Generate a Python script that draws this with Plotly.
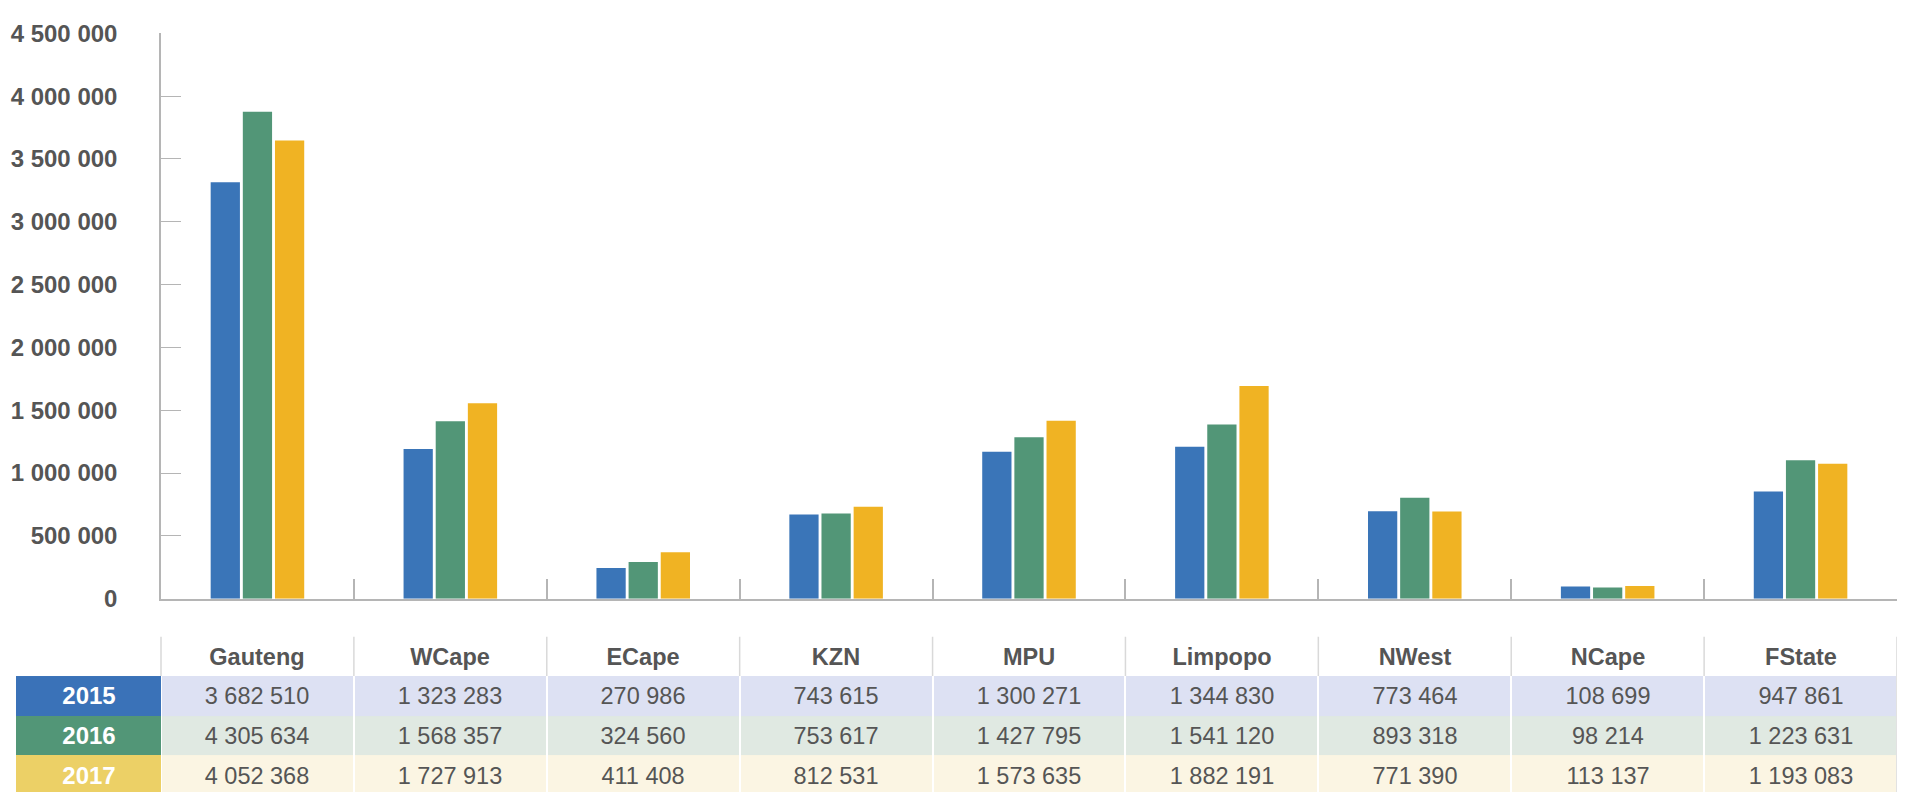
import plotly.graph_objects as go

# ---------------- data ----------------
provinces = ["Gauteng", "WCape", "ECape", "KZN", "MPU", "Limpopo", "NWest", "NCape", "FState"]
years = ["2015", "2016", "2017"]
v2015 = [3682510, 1323283, 270986, 743615, 1300271, 1344830, 773464, 108699, 947861]
v2016 = [4305634, 1568357, 324560, 753617, 1427795, 1541120, 893318, 98214, 1223631]
v2017 = [4052368, 1727913, 411408, 812531, 1573635, 1882191, 771390, 113137, 1193083]
axis_labels = [0, 500000, 1000000, 1500000, 2000000, 2500000, 3000000, 3500000, 4000000, 4500000]
axis_top_value = 5000000  # value reached at the "4 500 000" gridline in the original chart

# ---------------- styles ----------------
W, H = 1905, 805
bar_colors = ["#3a75b8", "#529677", "#f0b323"]
year_fill = ["#3a72b8", "#529677", "#ecd066"]
row_fill = ["#dde1f3", "#e0e9e2", "#fbf5e3"]
FONT = "Liberation Sans, Arial, Helvetica, sans-serif"
TXT = "#555555"
SEP = "#d9d9d9"

PLOT_L, PLOT_R = 161, 1897          # px, bar plot area
TAB_L = 16                          # px, left edge of year column
TAB_TOP = 644                       # px, top of table header
ROW_H = 41                          # px, table row height


def fmt(v):
    return f"{v:,}".replace(",", " ")


def py(px):
    return 1 - px / H


series = [v2015, v2016, v2017]
ncat = len(provinces)
cat_w = (PLOT_R - PLOT_L) / ncat
year_w = (PLOT_L - TAB_L) / cat_w    # year column width in category units

fig = go.Figure()
for name, vals, col in zip(years, series, bar_colors):
    fig.add_trace(go.Bar(x=provinces, y=vals, name=name, marker_color=col,
                         marker_line_width=0, showlegend=False, hoverinfo="skip"))

# ---------- table built on its own axes (x2 / y2) ----------
col_idx = list(range(ncat))
row_idx = [1, 2, 3]

# header
fig.add_trace(go.Heatmap(
    x=col_idx, y=[0], z=[[0] * ncat], text=[provinces], texttemplate="%{text}",
    textfont=dict(family=FONT, size=23.5, color=TXT, weight="bold"),
    colorscale=[[0, "white"], [1, "white"]], showscale=False, hoverinfo="skip",
    xaxis="x2", yaxis="y2"))

# data cells
fig.add_trace(go.Heatmap(
    x=col_idx, y=row_idx,
    z=[[r] * ncat for r in range(len(years))],
    text=[[fmt(v) for v in s] for s in series], texttemplate="%{text}",
    textfont=dict(family=FONT, size=23.5, color=TXT),
    colorscale=[[0, row_fill[0]], [0.5, row_fill[1]], [1, row_fill[2]]],
    zmin=0, zmax=2, xgap=2, ygap=0, showscale=False, hoverinfo="skip",
    xaxis="x2", yaxis="y2"))

# year column
fig.add_trace(go.Heatmap(
    x=[-0.5 - year_w, -0.5], y=row_idx,
    z=[[r] for r in range(len(years))],
    text=[[y] for y in years], texttemplate="%{text}",
    textfont=dict(family=FONT, size=24, color="white", weight="bold"),
    colorscale=[[0, year_fill[0]], [0.5, year_fill[1]], [1, year_fill[2]]],
    zmin=0, zmax=2, showscale=False, hoverinfo="skip",
    xaxis="x2", yaxis="y2"))

# header separators at category boundaries
shapes = []
for k in range(ncat + 1):
    xb = k - 0.5
    y1 = 3.5 if k == ncat else 0.5
    shapes.append(dict(type="line", xref="x2", yref="y2", x0=xb, x1=xb,
                       y0=-0.5, y1=y1, line=dict(color=SEP, width=1.5)))

tab_rows_visible = TAB_TOP / 1  # placeholder to keep names clear
tab_height_rows = (H - TAB_TOP) / ROW_H

fig.update_layout(
    width=W, height=H,
    margin=dict(l=0, r=0, t=0, b=0),
    paper_bgcolor="white", plot_bgcolor="white",
    barmode="group", bargap=0.5, bargroupgap=0.09,
    font=dict(family=FONT, color=TXT),
    shapes=shapes,
    xaxis=dict(domain=[PLOT_L / W, PLOT_R / W], showticklabels=False,
               showline=True, linecolor="#b5b5b5", linewidth=2,
               ticks="inside", tickson="boundaries", ticklen=20,
               tickcolor="#b5b5b5", tickwidth=1.5, showgrid=False, zeroline=False),
    yaxis=dict(domain=[py(605), py(20)], range=[0, axis_top_value],
               tickvals=[v * axis_top_value / axis_labels[-1] for v in axis_labels],
               ticktext=[f"<b>{fmt(v)}</b>" for v in axis_labels],
               tickfont=dict(family=FONT, size=24, color=TXT),
               showline=True, linecolor="#b5b5b5", linewidth=1.5,
               ticks="inside", ticklen=20, tickcolor="#b5b5b5", tickwidth=1,
               ticklabelstandoff=37,
               showgrid=False, zeroline=False),
    xaxis2=dict(domain=[TAB_L / W, PLOT_R / W], range=[-0.5 - year_w, ncat - 0.5],
                anchor="y2", visible=False, showgrid=False, zeroline=False),
    yaxis2=dict(domain=[0, py(TAB_TOP)],
                range=[-0.5 + tab_height_rows, -0.5],
                anchor="x2", visible=False, showgrid=False, zeroline=False),
)

fig.write_html("out.html")
